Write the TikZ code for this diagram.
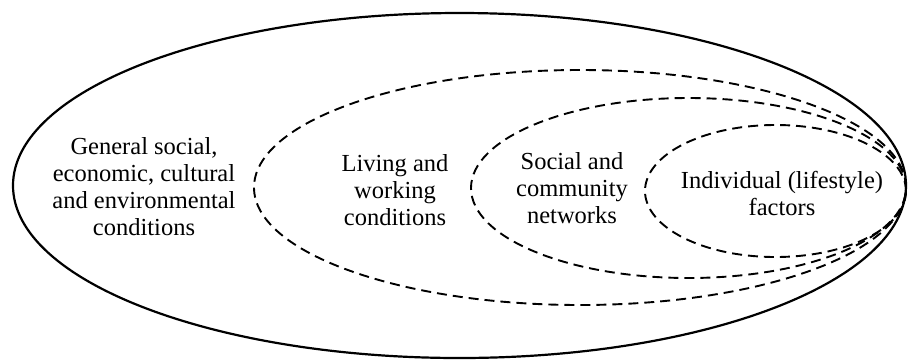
\documentclass[tikz,border=0pt]{standalone}
\usepackage{fontspec}
\setmainfont{Liberation Serif}
\usepackage{tikz}

\tikzset{
  layer/.style={line width=1.9pt, dash pattern=on 10pt off 6pt},
  label/.style={align=center, font=\fontsize{24.5}{27}\selectfont}
}

\begin{document}
\begin{tikzpicture}[x=1pt,y=-1pt]
\useasboundingbox (0,0) rectangle (909,360);

% Outer ring
\draw[line width=2.2pt] (459.5,185.5) ellipse [x radius=446.5pt, y radius=172.5pt];

% Inner rings (all touching on the right)
\draw[layer] (580,187.5) ellipse [x radius=326pt, y radius=117.5pt];
\draw[layer] (688.5,188) ellipse [x radius=217.5pt, y radius=90pt];
\draw[layer] (775.5,191) ellipse [x radius=130.5pt, y radius=66pt];

% Labels
\node[label] (general) at (144,187) {General social,\\economic, cultural\\and environmental\\conditions};
\node[label] (living) at (395,190) {Living and\\working\\conditions};
\node[label] (social) at (572,188) {Social and\\community\\networks};
\node[label] (individual) at (782,193) {Individual (lifestyle)\\factors};
\end{tikzpicture}
\end{document}
